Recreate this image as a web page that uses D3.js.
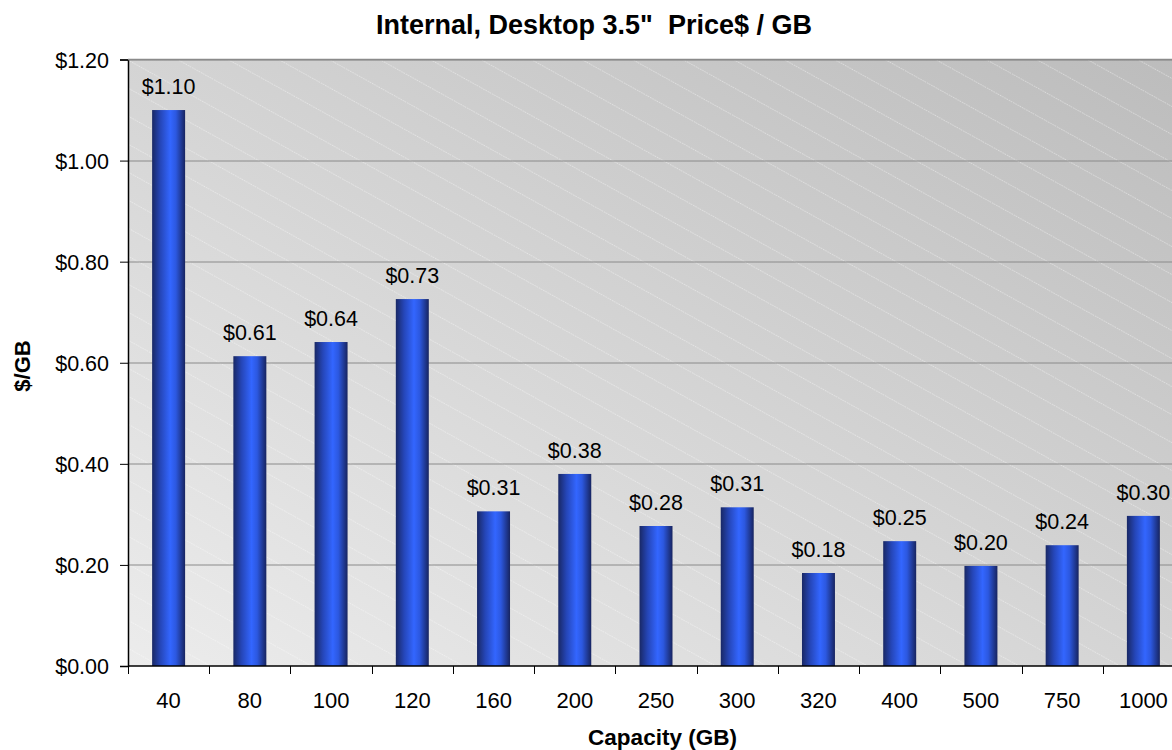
<!DOCTYPE html>
<html>
<head>
<meta charset="utf-8">
<script src="https://cdn.jsdelivr.net/npm/d3@7"></script>
<style>
  body { margin: 0; background: #fff; }
  text { font-family: "Liberation Sans", Arial, sans-serif; fill: #000; }
</style>
</head>
<body>
<svg id="chart" width="1172" height="750"></svg>
<script>
// capacities (GB) and price per GB
var capacities = ['40', '80', '100', '120', '160', '200', '250', '300', '320', '400', '500', '750', '1000'];
var pricePerGB = [1.10, 0.613, 0.641, 0.726, 0.306, 0.380, 0.277, 0.314, 0.184, 0.247, 0.198, 0.239, 0.297];
var yTicks = [0, 0.2, 0.4, 0.6, 0.8, 1.0, 1.2];

var chartTitle = 'Internal, Desktop 3.5"  Price$ / GB';
var xTitle = 'Capacity (GB)';
var yTitle = '$/GB';

// note: "top" is taken by window.top, so use other names
var plotLeft = 128, plotTop = 59.5, plotW = 1056, plotH = 606.5;

var svg = d3.select('svg#chart');
var fmt = d3.format('$.2f');

var x = d3.scaleBand()
  .domain(capacities)
  .range([0, plotW])
  .paddingInner(0.594)
  .paddingOuter(0.297);

var y = d3.scaleLinear()
  .domain([0, 1.2])
  .range([plotH, 0]);

var defs = svg.append('defs');

// plot background: light bottom-left to darker top-right
var bg = defs.append('linearGradient')
  .attr('id', 'bgGrad')
  .attr('x1', 0).attr('y1', 1)
  .attr('x2', 1).attr('y2', 0);
bg.append('stop').attr('offset', 0).attr('stop-color', '#ececec');
bg.append('stop').attr('offset', 1).attr('stop-color', '#bcbcbc');

// faint diagonal lines over the background
var hatch = defs.append('pattern')
  .attr('id', 'hatch')
  .attr('patternUnits', 'userSpaceOnUse')
  .attr('width', 20)
  .attr('height', 24.5)
  .attr('patternTransform', 'rotate(29)');
hatch.append('line')
  .attr('x1', 0).attr('y1', 0.5)
  .attr('x2', 20).attr('y2', 0.5)
  .attr('stroke', '#fff')
  .attr('stroke-opacity', 0.4)
  .attr('stroke-width', 1)
  .attr('stroke-dasharray', '1.5,1');

// bar shading, dark edges and bright middle
var barGrad = defs.append('linearGradient')
  .attr('id', 'barGrad')
  .attr('x1', 0).attr('y1', 0)
  .attr('x2', 1).attr('y2', 0);
barGrad.append('stop').attr('offset', 0).attr('stop-color', '#192865');
barGrad.append('stop').attr('offset', 0.25).attr('stop-color', '#2546b8');
barGrad.append('stop').attr('offset', 0.55).attr('stop-color', '#3366ff');
barGrad.append('stop').attr('offset', 0.72).attr('stop-color', '#2c58e0');
barGrad.append('stop').attr('offset', 1).attr('stop-color', '#172460');

var g = svg.append('g').attr('transform', 'translate(' + plotLeft + ',' + plotTop + ')');

g.append('rect')
  .attr('width', plotW)
  .attr('height', plotH)
  .attr('fill', 'url(#bgGrad)');
g.append('rect')
  .attr('width', plotW)
  .attr('height', plotH)
  .attr('fill', 'url(#hatch)');

// gridlines
g.selectAll('line.grid').data(yTicks.slice(1)).enter().append('line')
  .attr('class', 'grid')
  .attr('x1', 0)
  .attr('x2', plotW)
  .attr('y1', d => Math.round(y(d)) + 0.5)
  .attr('y2', d => Math.round(y(d)) + 0.5)
  .attr('stroke', '#8a8a8a')
  .attr('stroke-width', 1);

// bars
g.selectAll('rect.bar').data(capacities).enter().append('rect')
  .attr('class', 'bar')
  .attr('x', d => x(d))
  .attr('y', (d, i) => y(pricePerGB[i]))
  .attr('width', x.bandwidth())
  .attr('height', (d, i) => plotH - y(pricePerGB[i]))
  .attr('fill', 'url(#barGrad)');

// value labels
g.selectAll('text.val').data(capacities).enter().append('text')
  .attr('class', 'val')
  .attr('x', d => x(d) + x.bandwidth() / 2)
  .attr('y', (d, i) => y(pricePerGB[i]) - 16)
  .attr('text-anchor', 'middle')
  .attr('font-size', 21.5)
  .text((d, i) => fmt(pricePerGB[i]));

// y axis
var yAxis = g.append('g')
  .call(d3.axisLeft(y).tickValues(yTicks).tickFormat(fmt).tickSize(8).tickPadding(11));
yAxis.select('.domain').attr('stroke', '#000').attr('stroke-width', 1.5);
yAxis.selectAll('.tick line').attr('stroke', '#000');
yAxis.selectAll('.tick text')
  .attr('font-size', 21.5)
  .attr('dy', '0.36em')
  .style('font-family', '"Liberation Sans", Arial, sans-serif');

// x axis: ticks sit between the categories
var xAxis = g.append('g').attr('transform', 'translate(0,' + plotH + ')');
xAxis.append('line')
  .attr('x1', 0).attr('x2', plotW)
  .attr('stroke', '#000').attr('stroke-width', 1.5);
xAxis.selectAll('line.tk').data(d3.range(capacities.length + 1)).enter().append('line')
  .attr('class', 'tk')
  .attr('x1', i => Math.round(x.step() * i) + 0.5)
  .attr('x2', i => Math.round(x.step() * i) + 0.5)
  .attr('y1', 0)
  .attr('y2', 8)
  .attr('stroke', '#000');
xAxis.selectAll('text').data(capacities).enter().append('text')
  .attr('x', d => x(d) + x.bandwidth() / 2)
  .attr('y', 41.5)
  .attr('text-anchor', 'middle')
  .attr('font-size', 22)
  .text(d => d);

// top border of the plot
g.append('line')
  .attr('x1', 0).attr('x2', plotW)
  .attr('y1', 0).attr('y2', 0)
  .attr('stroke', '#8a8a8a').attr('stroke-width', 1.5);

// titles
svg.append('text')
  .attr('x', 594)
  .attr('y', 34)
  .attr('text-anchor', 'middle')
  .attr('font-size', 27)
  .attr('font-weight', 'bold')
  .style('white-space', 'pre')
  .text(chartTitle);

svg.append('text')
  .attr('x', 662.5)
  .attr('y', 745)
  .attr('text-anchor', 'middle')
  .attr('font-size', 22.5)
  .attr('font-weight', 'bold')
  .text(xTitle);

svg.append('text')
  .attr('transform', 'translate(30,366) rotate(-90)')
  .attr('text-anchor', 'middle')
  .attr('font-size', 22)
  .attr('font-weight', 'bold')
  .text(yTitle);
</script>
</body>
</html>
